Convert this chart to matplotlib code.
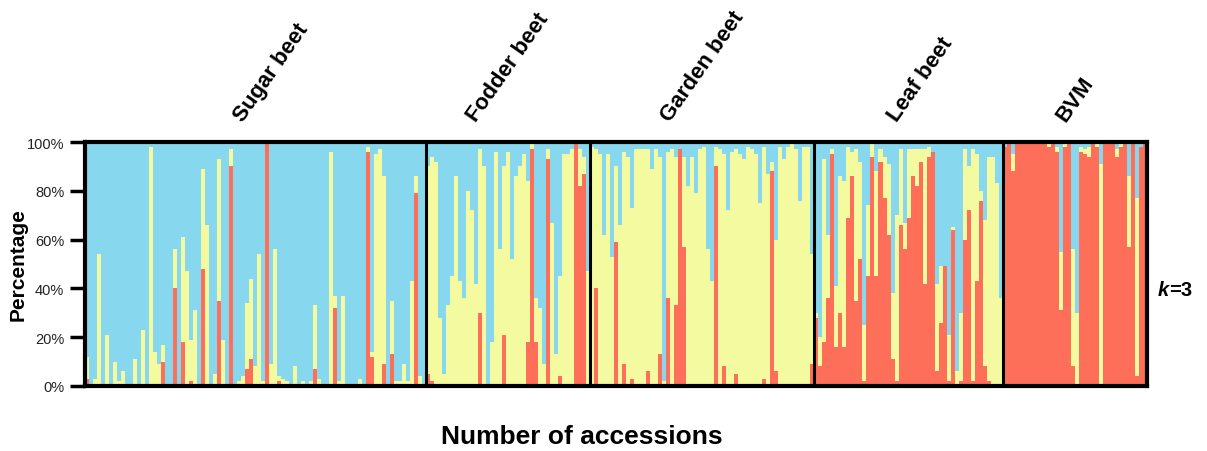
import numpy as np
import matplotlib.pyplot as plt

plt.rcParams['font.family'] = ['Liberation Sans', 'DejaVu Sans']

# Q-values, per accession (in %)
# red = share of red cluster (bottom), top = red + yellow share, blue is the rest
groups = ['Sugar beet', 'Fodder beet', 'Garden beet', 'Leaf beet', 'BVM']

sugar_red = [3, 0, 0, 0, 0, 0, 0, 1, 0, 0, 0, 0, 1, 0, 0, 0, 0, 0, 0, 10,
             0, 0, 40, 0, 18, 0, 2, 0, 0, 48, 0, 0, 0, 35, 1, 0, 90, 0, 0, 0,
             7, 11, 0, 0, 0, 100, 0, 0, 2, 0, 0, 0, 0, 0, 0, 0, 0, 7, 0, 0,
             0, 0, 32, 0, 0, 1, 0, 0, 0, 0, 96, 12, 0, 0, 9, 0, 13, 0, 0, 0,
             0, 0, 79, 0, 0]
sugar_top = [12, 0, 3, 54, 1, 21, 1, 10, 2, 6, 0, 0, 11, 1, 23, 0, 98, 14, 9, 17,
             0, 0, 56, 0, 61, 47, 19, 31, 0, 89, 66, 0, 5, 93, 19, 0, 97, 0, 2, 4,
             34, 44, 8, 54, 2, 100, 9, 56, 4, 3, 2, 0, 8, 0, 2, 0, 2, 33, 3, 0,
             0, 96, 37, 2, 37, 1, 0, 0, 3, 0, 98, 14, 95, 97, 86, 0, 35, 2, 2, 9,
             2, 43, 86, 4, 1]

fodder_red = [5, 2, 0, 0, 0, 0, 0, 1, 0, 0, 0, 0, 0, 30, 0, 1, 0, 0, 1, 21,
              0, 1, 1, 0, 0, 18, 97, 18, 0, 0, 93, 0, 0, 4, 1, 0, 0, 100, 82, 87,
              0]
fodder_top = [90, 94, 92, 28, 5, 33, 45, 86, 43, 36, 80, 72, 42, 97, 90, 1, 18, 96, 56, 90,
              96, 52, 86, 90, 95, 84, 99, 36, 32, 9, 97, 67, 13, 45, 95, 95, 97, 100, 97, 94,
              47]

garden_red = [0, 40, 0, 0, 0, 0, 59, 0, 9, 0, 3, 0, 0, 1, 6, 0, 0, 13, 1, 36,
              0, 33, 97, 57, 1, 0, 0, 0, 0, 0, 0, 90, 0, 8, 0, 0, 5, 0, 0, 1,
              0, 0, 1, 3, 0, 88, 6, 0, 0, 0, 0, 0, 0, 0, 0, 9]
garden_top = [98, 97, 95, 62, 95, 53, 90, 66, 96, 94, 73, 97, 97, 97, 97, 89, 97, 94, 2, 96,
              97, 94, 97, 94, 82, 94, 79, 97, 98, 56, 43, 98, 97, 95, 72, 96, 97, 95, 93, 98,
              97, 95, 75, 98, 87, 92, 60, 98, 93, 98, 99, 97, 76, 98, 98, 54]

leaf_red = [28, 8, 18, 36, 95, 16, 30, 16, 69, 86, 35, 52, 2, 45, 94, 45, 92, 77, 62, 11,
            2, 66, 56, 69, 86, 82, 92, 42, 94, 96, 6, 26, 49, 2, 64, 0, 2, 60, 72, 2,
            43, 76, 8, 2, 1, 1, 0]
leaf_top = [30, 20, 93, 62, 97, 41, 86, 84, 98, 96, 97, 92, 25, 74, 99, 88, 97, 94, 91, 38,
            70, 97, 67, 97, 97, 97, 97, 97, 98, 96, 42, 49, 49, 21, 65, 6, 30, 97, 90, 97,
            95, 80, 68, 94, 94, 83, 36]

bvm_red = [98, 100, 88, 99, 100, 100, 100, 100, 100, 100, 100, 98, 100, 96, 31, 98, 100, 8, 1, 96,
           95, 94, 100, 98, 1, 100, 100, 100, 94, 98, 100, 57, 100, 4, 98, 100]
bvm_top = [98, 100, 95, 99, 100, 100, 100, 100, 100, 100, 100, 100, 100, 98, 55, 100, 100, 56, 30, 98,
           97, 98, 100, 100, 91, 100, 100, 100, 97, 100, 100, 86, 100, 77, 98, 100]

red = np.array(sugar_red + fodder_red + garden_red + leaf_red + bvm_red, dtype=float)
top = np.array(sugar_top + fodder_top + garden_top + leaf_top + bvm_top, dtype=float)
sizes = [len(sugar_red), len(fodder_red), len(garden_red), len(leaf_red), len(bvm_red)]
yellow = top - red
blue = 100 - top

c_red = '#fd6f59'
c_yellow = '#f4fa9f'
c_blue = '#87d8ee'

fig = plt.figure(figsize=(12.07, 4.52), dpi=100)
ax = fig.add_axes([85 / 1207, 1 - 387 / 452, 1062 / 1207, 244 / 452])

x = np.arange(len(red))
kw = dict(width=1.0, align='edge', linewidth=0, antialiased=False)
ax.bar(x, red, color=c_red, **kw)
ax.bar(x, yellow, bottom=red, color=c_yellow, **kw)
ax.bar(x, blue, bottom=top, color=c_blue, **kw)

ax.set_xlim(0, len(red))
ax.set_ylim(0, 100)

# group separators + labels (labels sit a bit right of centre for some groups)
edges = np.cumsum([0] + sizes)
nudge = [4, 0, 0, 3, 0]
for b in edges[1:-1]:
    ax.axvline(b, color='black', lw=2.2)
for i, g in enumerate(groups):
    mid = (edges[i] + edges[i + 1]) / 2 + nudge[i]
    ax.text(mid, 107, g, ha='center', va='bottom', rotation=55,
            fontsize=16, fontweight='bold', clip_on=False)

for s in ax.spines.values():
    s.set_linewidth(3)
ax.set_xticks([])
ax.set_yticks([0, 20, 40, 60, 80, 100])
ax.set_yticklabels(['0%', '20%', '40%', '60%', '80%', '100%'], fontsize=10.5, color='#222222')
ax.tick_params(axis='y', length=11, width=2.5, pad=4)

ax.set_ylabel('Percentage', fontsize=15, fontweight='bold')
ax.yaxis.set_label_coords(-0.054, 0.5)

fig.text(582 / 1207, 1 - 437 / 452, 'Number of accessions', ha='center', va='center',
         fontsize=19, fontweight='bold')
fig.text(1158 / 1207, 1 - 291 / 452, 'k', ha='left', va='center',
         fontsize=14.5, fontweight='bold', style='italic')
fig.text(1169 / 1207, 1 - 291 / 452, '=3', ha='left', va='center',
         fontsize=14.5, fontweight='bold')

plt.savefig('out.png', dpi=100)
